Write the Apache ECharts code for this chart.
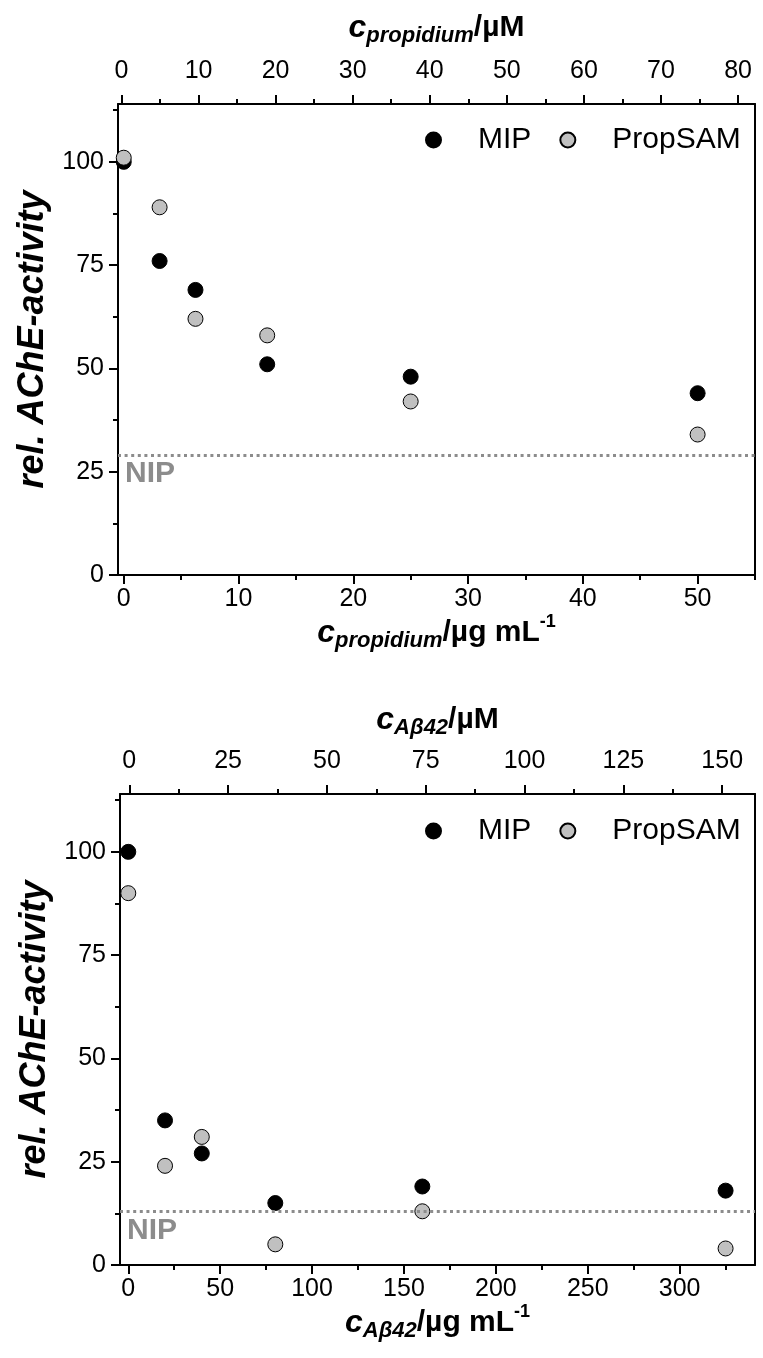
<!DOCTYPE html>
<html>
<head>
<meta charset="utf-8">
<script src="https://cdn.jsdelivr.net/npm/echarts@6/dist/echarts.min.js"></script>
<style>
html,body{margin:0;padding:0;background:#fff;}
#c{width:763px;height:1358px;}
</style>
</head>
<body>
<div id="c"></div>
<script>
// ---------- data ----------
const propConc = [0, 3.125, 6.25, 12.5, 25, 50];
const propMIP = [100, 76, 69, 51, 48, 44];
const propSAM = [101, 89, 62, 58, 42, 34];
const propNIP = 29;

const abConc = [0, 20, 40, 80, 160, 325];
const abMIP = [100, 35, 27, 15, 19, 18];
const abSAM = [90, 24, 31, 5, 13, 4];
const abNIP = 13;

// tick labels
const yTicks = [0, 25, 50, 75, 100];
const propBottomTicks = [0, 10, 20, 30, 40, 50];
const propTopTicks = [0, 10, 20, 30, 40, 50, 60, 70, 80];
const abBottomTicks = [0, 50, 100, 150, 200, 250, 300];
const abTopTicks = [0, 25, 50, 75, 100, 125, 150];

// ---------- helpers ----------
const FONT = '"Liberation Sans", Arial, sans-serif';
const mids = t => t.slice(0, -1).map((v, i) => (v + t[i + 1]) / 2).concat([t[t.length - 1] + (t[1] - t[0]) / 2]);

function tickAxis(opts) {
  const { grid, pos, min, max, ticks, name, nameGap, minorOnly } = opts;
  const base = {
    type: 'value', gridIndex: grid, position: pos, min: min, max: max,
    splitLine: { show: false },
    axisLine: { show: !minorOnly, onZero: false, lineStyle: { color: '#000', width: 2 } },
    axisTick: {
      show: true, inside: false, length: minorOnly ? 5 : 9,
      customValues: minorOnly ? mids(ticks).filter(v => v >= min && v <= max) : ticks,
      lineStyle: { color: '#000', width: 2 }
    },
    axisLabel: minorOnly ? { show: false } : {
      show: true, customValues: ticks, color: '#000', fontFamily: FONT, fontSize: 25,
      margin: (pos === 'top') ? 20 : (pos === 'bottom' ? 12 : 14)
    }
  };
  if (name && !minorOnly) {
    base.name = name;
    base.nameLocation = 'middle';
    base.nameGap = nameGap;
    base.nameTextStyle = opts.nameTextStyle;
  }
  return base;
}

const titleRich = {
  c: { fontSize: 32, fontWeight: 'bold', fontStyle: 'italic', fontFamily: FONT, color: '#000' },
  s: { fontSize: 22, fontWeight: 'bold', fontStyle: 'italic', fontFamily: FONT, color: '#000', padding: [16, 0, 0, 0] },
  n: { fontSize: 30, fontWeight: 'bold', fontFamily: FONT, color: '#000' },
  p: { fontSize: 18, fontWeight: 'bold', fontFamily: FONT, color: '#000', padding: [0, 0, 22, 0] }
};
const yNameStyle = { fontSize: 36, fontWeight: 'bold', fontStyle: 'italic', fontFamily: FONT, color: '#000' };

const grids = [
  { left: 118, top: 104, width: 637, height: 471, outerBoundsMode: 'none' },
  { left: 120, top: 794, width: 635, height: 471, outerBoundsMode: 'none' }
];

const Y = [0, 114];
const xAxes = [
  // grid 0
  tickAxis({ grid: 0, pos: 'bottom', min: -0.5, max: 55, ticks: propBottomTicks, name: '{c|c}{s|propidium}{n|/µg mL}{p|-1}', nameGap: 38, nameTextStyle: { rich: titleRich, verticalAlign: 'top' } }),
  tickAxis({ grid: 0, pos: 'top', min: -0.45, max: 82.2, ticks: propTopTicks, name: '{c|c}{s|propidium}{n|/µM}', nameGap: 57, nameTextStyle: { rich: titleRich } }),
  tickAxis({ grid: 0, pos: 'bottom', min: -0.5, max: 55, ticks: propBottomTicks, minorOnly: true }),
  tickAxis({ grid: 0, pos: 'top', min: -0.45, max: 82.2, ticks: propTopTicks, minorOnly: true }),
  // grid 1
  tickAxis({ grid: 1, pos: 'bottom', min: -4.5, max: 341, ticks: abBottomTicks, name: '{c|c}{s|Aβ42}{n|/µg mL}{p|-1}', nameGap: 38, nameTextStyle: { rich: titleRich, verticalAlign: 'top' } }),
  tickAxis({ grid: 1, pos: 'top', min: -2.35, max: 158.3, ticks: abTopTicks, name: '{c|c}{s|Aβ42}{n|/µM}', nameGap: 55, nameTextStyle: { rich: titleRich } }),
  tickAxis({ grid: 1, pos: 'bottom', min: -4.5, max: 341, ticks: abBottomTicks, minorOnly: true }),
  tickAxis({ grid: 1, pos: 'top', min: -2.35, max: 158.3, ticks: abTopTicks, minorOnly: true })
];

function rightAxis(g) {
  return { type: 'value', gridIndex: g, position: 'right', min: Y[0], max: Y[1],
    axisLine: { show: true, onZero: false, lineStyle: { color: '#000', width: 2 } },
    axisTick: { show: false }, axisLabel: { show: false }, splitLine: { show: false } };
}
const yAxes = [
  tickAxis({ grid: 0, pos: 'left', min: Y[0], max: Y[1], ticks: yTicks, name: 'rel. AChE-activity', nameGap: 62, nameTextStyle: yNameStyle }),
  tickAxis({ grid: 0, pos: 'left', min: Y[0], max: Y[1], ticks: yTicks, minorOnly: true }),
  rightAxis(0),
  tickAxis({ grid: 1, pos: 'left', min: Y[0], max: Y[1], ticks: yTicks, name: 'rel. AChE-activity', nameGap: 62, nameTextStyle: yNameStyle }),
  tickAxis({ grid: 1, pos: 'left', min: Y[0], max: Y[1], ticks: yTicks, minorOnly: true }),
  rightAxis(1)
];
yAxes.forEach(a => { if (a.name) a.nameRotate = 90; });

function nipLine(v) {
  return {
    symbol: 'none', silent: true,
    lineStyle: { color: '#8c8c8c', width: 3, type: [3, 3.6] },
    label: { show: true, position: 'insideStartBottom', formatter: 'NIP', color: '#8c8c8c',
      fontFamily: FONT, fontWeight: 'bold', fontSize: 30, distance: [7, 4] },
    data: [{ yAxis: v }]
  };
}

function scatter(name, xs, ys, xi, yi, fill, extra) {
  const s = {
    type: 'scatter', name: name, xAxisIndex: xi, yAxisIndex: yi, clip: false,
    symbol: 'circle', symbolSize: 15,
    itemStyle: { color: fill, borderColor: '#000', borderWidth: 1, opacity: 1 },
    data: xs.map((x, i) => [x, ys[i]])
  };
  return Object.assign(s, extra || {});
}

const series = [
  scatter('MIP', propConc, propMIP, 0, 0, '#000', { markLine: nipLine(propNIP) }),
  scatter('PropSAM', propConc, propSAM, 0, 0, '#c0c0c0'),
  scatter('MIP ', abConc, abMIP, 4, 3, '#000', { markLine: nipLine(abNIP) }),
  scatter('PropSAM ', abConc, abSAM, 4, 3, '#c0c0c0')
];

const legendBase = {
  orient: 'horizontal', itemWidth: 15, itemHeight: 15, itemGap: 28,
  icon: 'circle', selectedMode: false,
  textStyle: { fontFamily: FONT, fontSize: 30, color: '#000', padding: [0, 0, 0, 32], lineHeight: 30 }
};

const option = {
  animation: false,
  backgroundColor: '#fff',
  grid: grids,
  xAxis: xAxes,
  yAxis: yAxes,
  legend: [
    Object.assign({}, legendBase, { data: ['MIP', 'PropSAM'], left: 420, top: 120 }),
    Object.assign({}, legendBase, { data: ['MIP ', 'PropSAM '], left: 420, top: 811, formatter: n => n.trim() })
  ],
  series: series
};

const chart = echarts.init(document.getElementById('c'), null, { renderer: 'canvas' });
chart.setOption(option);
</script>
</body>
</html>
